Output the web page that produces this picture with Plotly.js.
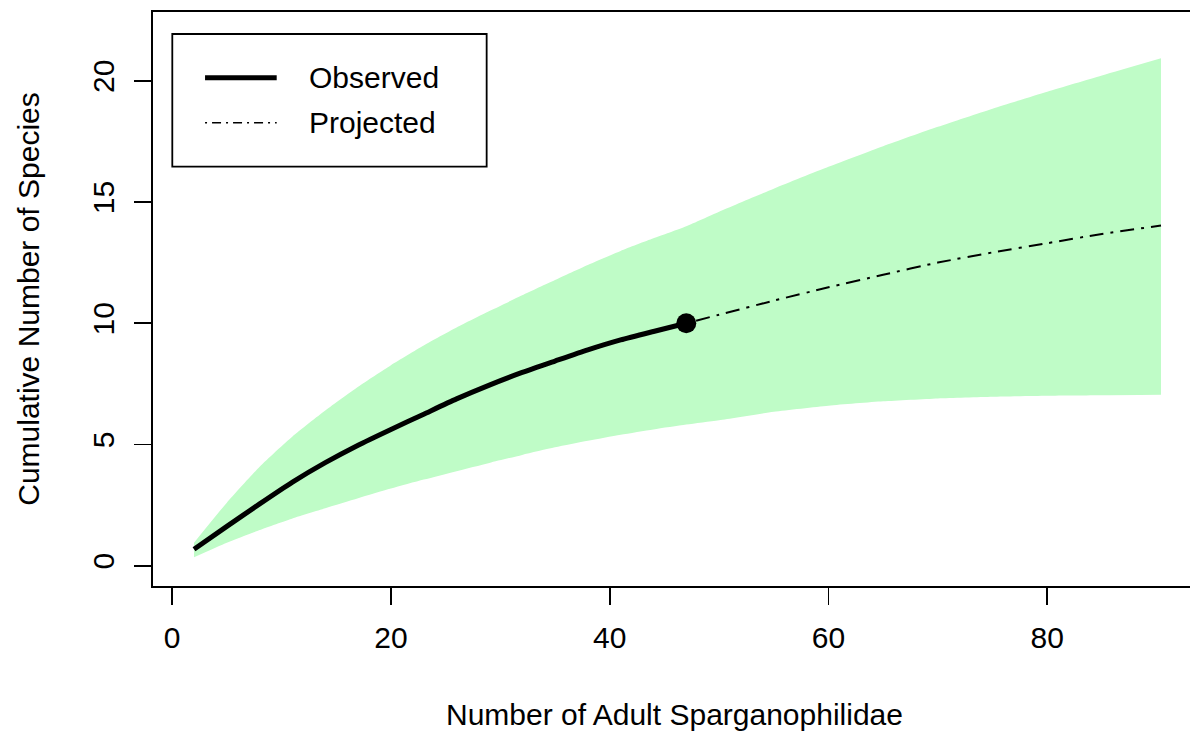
<!DOCTYPE html>
<html>
<head>
<meta charset="utf-8">
<script src="https://cdn.plot.ly/plotly-3.0.1.min.js"></script>
<style>
html, body { margin: 0; padding: 0; overflow: hidden; background: #fff; }
#chart { width: 1196px; height: 731px; }
</style>
</head>
<body>
<div id="chart"></div>
<script>
// ---- data ----
const observedX = [2, 5, 8, 11, 14, 17, 20, 23, 26, 29, 32, 35, 38, 41, 44, 47];
const observedY = [0.68, 1.62, 2.55, 3.45, 4.25, 4.97, 5.62, 6.25, 6.88, 7.45, 7.97, 8.44, 8.9, 9.31, 9.66, 10.0];

const projectedX = [47, 50, 55, 60, 65, 70, 75, 80, 85, 90.4];
const projectedY = [10.0, 10.35, 10.93, 11.48, 12.0, 12.5, 12.92, 13.3, 13.68, 14.03];

const ribbonX = [2, 5, 8, 11, 14, 17, 20, 23, 26, 29, 32, 35, 38, 41, 44, 47, 50, 55, 60, 65, 70, 75, 80, 85, 90.4];
const ribbonUpper = [0.95, 2.6, 4.08, 5.33, 6.4, 7.38, 8.27, 9.08, 9.82, 10.5, 11.15, 11.78, 12.4, 12.98, 13.5, 14.0, 14.6, 15.55, 16.45, 17.3, 18.1, 18.85, 19.55, 20.22, 20.93];
const ribbonLower = [0.35, 0.95, 1.47, 1.95, 2.37, 2.78, 3.18, 3.55, 3.9, 4.24, 4.57, 4.88, 5.15, 5.4, 5.62, 5.82, 6.0, 6.35, 6.6, 6.78, 6.9, 6.97, 7.01, 7.03, 7.05];

const sampleX = [47];
const sampleY = [10];

const xTicks = [0, 20, 40, 60, 80];
const yTicks = [0, 5, 10, 15, 20];

const legendLabels = ["Observed", "Projected"];
const xTitle = "Number of Adult Sparganophilidae";
const yTitle = "Cumulative Number of Species";

// ---- drawing ----
const FONT = "Liberation Sans, Arial, Helvetica, sans-serif";
const FS = 30;
const ribbonColor = "rgb(191,252,199)";

const traces = [
  { x: ribbonX, y: ribbonLower, type: "scatter", mode: "lines",
    line: { width: 0, shape: "spline", smoothing: 0.6 }, hoverinfo: "skip", showlegend: false },
  { x: ribbonX, y: ribbonUpper, type: "scatter", mode: "lines", fill: "tonexty",
    fillcolor: ribbonColor, line: { width: 0, shape: "spline", smoothing: 0.6 },
    hoverinfo: "skip", showlegend: false },
  { x: projectedX, y: projectedY, type: "scatter", mode: "lines", name: legendLabels[1],
    line: { color: "black", width: 2, dash: "3px,7px,14px,7px", shape: "spline", smoothing: 0.6 },
    showlegend: false },
  { x: observedX, y: observedY, type: "scatter", mode: "lines", name: legendLabels[0],
    line: { color: "black", width: 5, shape: "spline", smoothing: 0.6 }, showlegend: false },
  { x: sampleX, y: sampleY, type: "scatter", mode: "markers",
    marker: { color: "black", size: 20 }, showlegend: false }
];

const layout = {
  width: 1196, height: 731,
  margin: { l: 153, r: 0, t: 12, b: 145 },
  paper_bgcolor: "white", plot_bgcolor: "white",
  font: { family: FONT, size: FS, color: "black" },
  showlegend: false,
  xaxis: {
    range: [-1.75, 93.6], tickvals: xTicks, ticktext: xTicks.map(String),
    ticks: "outside", ticklen: 17, tickwidth: 1.8, tickcolor: "black",
    showline: true, linewidth: 1.8, linecolor: "black", mirror: true,
    showgrid: false, zeroline: false,
    tickfont: { family: FONT, size: FS }, ticklabelstandoff: 7,
    title: { text: xTitle, font: { family: FONT, size: FS }, standoff: 53 }
  },
  yaxis: {
    range: [-0.837, 22.835], tickvals: yTicks, ticktext: yTicks.map(String),
    ticks: "outside", ticklen: 17, tickwidth: 1.8, tickcolor: "black", tickangle: -90,
    showline: true, linewidth: 1.8, linecolor: "black", mirror: true,
    showgrid: false, zeroline: false,
    tickfont: { family: FONT, size: FS }, ticklabelstandoff: 8,
    title: { text: yTitle, font: { family: FONT, size: FS }, standoff: 39 }
  },
  shapes: [
    { type: "rect", xref: "paper", yref: "paper", x0: 0.0185, x1: 0.3199, y0: 0.7305, y1: 0.9617,
      line: { color: "black", width: 1.8 }, fillcolor: "white" },
    { type: "line", xref: "paper", yref: "paper", x0: 0.0499, x1: 0.1186, y0: 0.8855, y1: 0.8855,
      line: { color: "black", width: 5 } },
    { type: "line", xref: "paper", yref: "paper", x0: 0.0499, x1: 0.1186, y0: 0.8071, y1: 0.8071,
      line: { color: "black", width: 1.5, dash: "2px,5px,9px,5px" } }
  ],
  annotations: [
    { xref: "paper", yref: "paper", x: 0.1476, y: 0.8855, xanchor: "left", yanchor: "middle",
      text: legendLabels[0], showarrow: false, font: { family: FONT, size: FS, color: "black" } },
    { xref: "paper", yref: "paper", x: 0.1476, y: 0.8071, xanchor: "left", yanchor: "middle",
      text: legendLabels[1], showarrow: false, font: { family: FONT, size: FS, color: "black" } }
  ]
};

Plotly.newPlot("chart", traces, layout, { displayModeBar: false, staticPlot: true });
</script>
</body>
</html>
